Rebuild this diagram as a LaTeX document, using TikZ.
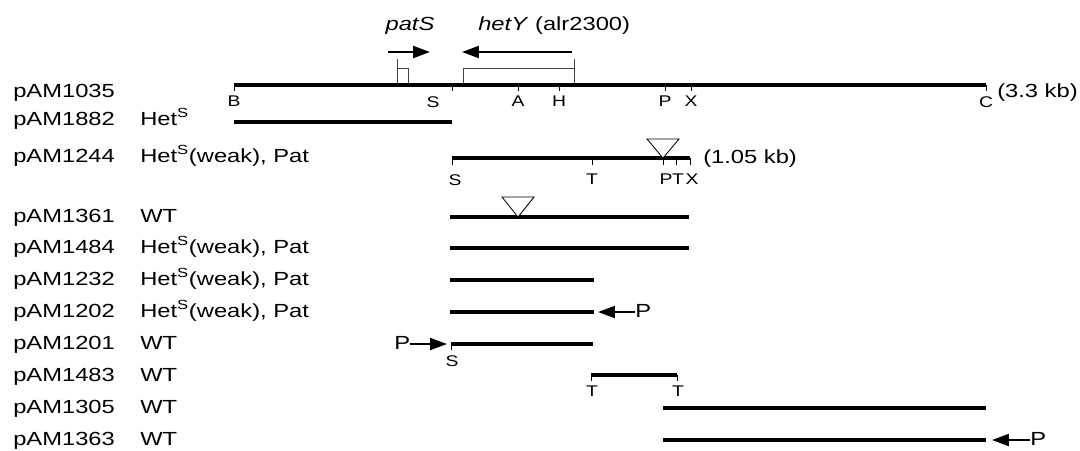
\documentclass[tikz,border=0pt]{standalone}
\usepackage{fontspec}
\setmainfont{Liberation Sans}[FakeStretch=1.25]
\usepackage{xcolor}
\usetikzlibrary{arrows.meta}

\begin{document}
\begin{tikzpicture}[x=0.025cm, y=-0.025cm,
        bar/.style={line width=2.6pt},
        tic/.style={line width=0.6pt},
        orf/.style={draw=black!75, line width=0.6pt},
        arr/.style={line width=1.4pt, -{Triangle[length=12pt, width=8.5pt]}},
        site/.style={font=\fontsize{11}{12}\selectfont, inner sep=0pt, anchor=north},
        lab/.style={font=\fontsize{13.5}{15}\selectfont, inner sep=0pt, anchor=base west},
        ins/.style={draw, line width=0.6pt, fill=white}]
        \useasboundingbox (0,0) rectangle (1080,450);

        % plasmids and phenotypes
        \node[lab] (n1035) at (13,97) {pAM1035};
        \foreach \pl/\ph/\yb in {1882/Het\textsuperscript{S}/125,
                1244/{Het\textsuperscript{S}(weak), Pat}/162,
                1361/WT/222, 1484/{Het\textsuperscript{S}(weak), Pat}/253,
                1232/{Het\textsuperscript{S}(weak), Pat}/285,
                1202/{Het\textsuperscript{S}(weak), Pat}/317,
                1201/WT/349, 1483/WT/381, 1305/WT/413, 1363/WT/445}
        {
            \node[lab] (n\pl) at (13,\yb) {pAM\pl};
            \node[lab] (h\pl) at (140,\yb) {\ph};
        }

        % genes
        \node[lab, anchor=base] (patS) at (410,30) {\itshape patS};
        \node[lab] (hetY) at (478,30) {\textit{hetY} (alr2300)};
        \coordinate (patSa) at (388,52);
        \coordinate (patSb) at (430,52);
        \coordinate (hetYa) at (572,52);
        \coordinate (hetYb) at (462,52);
        \draw[arr] (patSa) -- (patSb);
        \draw[arr] (hetYa) -- (hetYb);
        \draw[orf] (397,85) rectangle (408,68);
        \draw[orf] (397,68) -- (397,59);
        \draw[orf] (463,85) rectangle (574,68);
        \draw[orf] (574,68) -- (574,59);

        % pAM1035, the whole fragment
        \draw[bar] (234,85) -- (986,85);
        \foreach \x/\s in {234/B, 518/A, 559/H, 665/P, 691/X, 986/C}
        {
            \draw[tic] (\x,85) -- (\x,91);
            \node[site] (m\s) at (\x,96) {\s};
        }
        \draw[tic] (452,85) -- (452,91);
        \node[site] (mS) at (433,96) {S};
        \node[lab, anchor=base west] (kb33) at (997,97) {(3.3 kb)};

        % pAM1882
        \draw[bar] (234,122) -- (452,122);

        % pAM1244
        \draw[bar] (452,158) -- (690,158);
        \foreach \x in {452,592,663,676,690}
            \draw[tic] (\x,158) -- (\x,165);
        \node[site] (aS) at (455,174) {S};
        \node[site] (aT) at (592,174) {T};
        \node[site] (aP) at (666,174) {P};
        \node[site] (aT2) at (678,174) {T};
        \node[site] (aX) at (692,174) {X};
        \draw[ins] (663,158) -- (647,139) -- (679,139) -- cycle;
        \node[lab] (kb105) at (703,163) {(1.05 kb)};

        % deletions
        \draw[bar] (450,217) -- (689,217);
        \draw[ins] (518,217) -- (502,197) -- (534,197) -- cycle;
        \draw[bar] (450,248) -- (689,248);
        \draw[bar] (450,280) -- (594,280);
        \draw[bar] (450,312) -- (594,312);
        \node[lab] (P1202) at (635,317) {P};
        \coordinate (e1202) at (598,312);
        \draw[arr] (P1202.west |- e1202) -- (e1202);

        % pAM1201
        \draw[bar] (451,344) -- (593,344);
        \draw[tic] (451,344) -- (451,350);
        \node[site] (bS) at (452,355) {S};
        \node[lab] (P1201) at (394,349) {P};
        \coordinate (e1201) at (447,344);
        \draw[arr] (P1201.east |- e1201) -- (e1201);

        % pAM1483
        \draw[bar] (591,375) -- (677,375);
        \draw[tic] (591,375) -- (591,381);
        \draw[tic] (677,375) -- (677,381);
        \node[site] (cT) at (592,386) {T};
        \node[site] (cT2) at (678,386) {T};

        % pAM1305, pAM1363
        \draw[bar] (663,408) -- (986,408);
        \draw[bar] (663,440) -- (986,440);
        \node[lab] (P1363) at (1030,445) {P};
        \coordinate (e1363) at (992,440);
        \draw[arr] (P1363.west |- e1363) -- (e1363);
    \end{tikzpicture}
\end{document}
